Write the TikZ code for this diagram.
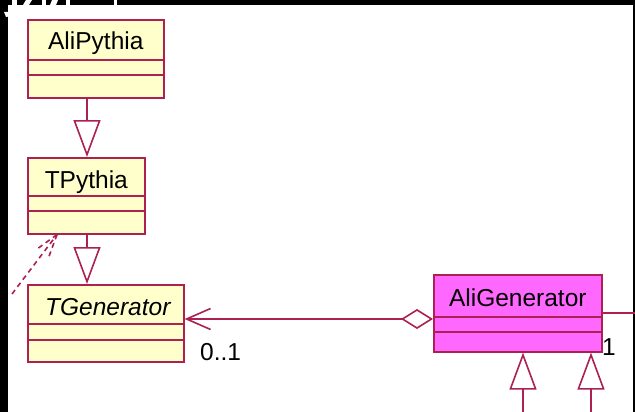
\documentclass[tikz,border=0pt]{standalone}
\usepackage{fontspec}
\setmainfont{Liberation Sans}
\usetikzlibrary{arrows.meta,calc}

\definecolor{umlred}{RGB}{172,32,84}
\definecolor{classyellow}{RGB}{255,255,204}
\definecolor{classpink}{RGB}{255,104,255}

\tikzset{
  umlclass/.style={draw=umlred, line width=1.6pt, inner sep=0pt, anchor=north west},
  classname/.style={anchor=base, inner sep=0pt, font=\fontsize{24.5}{28}\selectfont},
  mult/.style={anchor=base west, inner sep=0pt, font=\fontsize{24.5}{28}\selectfont},
  umlline/.style={draw=umlred, line width=1.6pt},
  generalize/.style={umlline, -{Triangle[open, length=37pt, width=27pt, fill=white]}},
  aggregate/.style={umlline, {Diamond[open, length=32pt, width=20pt, fill=white]}-{Straight Barb[length=24pt, width=21pt]}},
  depend/.style={umlline, dash pattern=on 5pt off 4pt},
}

\begin{document}
\begin{tikzpicture}[x=1pt, y=-1pt]
\useasboundingbox (0,0) rectangle (635,412);
\fill[white] (0,0) rectangle (635,412);

% screen frame
\fill[black] (0,0) rectangle (635,5);
\fill[black] (0,0) rectangle (8,412);
\fill[black] (633,0) rectangle (635,412);
% lower ends of the caption glyphs above
\fill[white] (4,12) -- (10,12) -- (12,16) -- (6,17) -- cycle;
\fill[white] (12,0) rectangle (17,14);
\fill[white] (26,0) -- (32,0) -- (29,5) -- (23,5) -- cycle;
\fill[white] (42,0) rectangle (46,5);
\fill[white] (52,0) -- (58,0) -- (56,5) -- (50,5) -- cycle;
\fill[white] (66,0) rectangle (70,5);
\fill[white] (114,0) rectangle (117,5);

% classes
\node[umlclass, fill=classyellow, minimum width=136pt, minimum height=78pt] (alipythia) at (27,19) {};
\draw[umlline] ($(alipythia.north west)+(0,-41pt)$) -- ($(alipythia.north east)+(0,-41pt)$);
\draw[umlline] ($(alipythia.north west)+(0,-56pt)$) -- ($(alipythia.north east)+(0,-56pt)$);
\node[classname] at ($(alipythia.north)+(0,-31pt)$) {AliPythia};

\node[umlclass, fill=classyellow, minimum width=117pt, minimum height=76pt] (tpythia) at (27,157) {};
\draw[umlline] ($(tpythia.north west)+(0,-39pt)$) -- ($(tpythia.north east)+(0,-39pt)$);
\draw[umlline] ($(tpythia.north west)+(0,-54pt)$) -- ($(tpythia.north east)+(0,-54pt)$);
\node[classname] at ($(tpythia.north)+(0,-31pt)$) {TPythia};

\node[umlclass, fill=classyellow, minimum width=156pt, minimum height=77pt] (tgen) at (27,284) {};
\draw[umlline] ($(tgen.north west)+(0,-40pt)$) -- ($(tgen.north east)+(0,-40pt)$);
\draw[umlline] ($(tgen.north west)+(0,-56pt)$) -- ($(tgen.north east)+(0,-56pt)$);
\node[classname, font=\fontsize{24.5}{28}\selectfont\itshape] at ($(tgen.north)+(2pt,-31pt)$) {TGenerator};

\node[umlclass, fill=classpink, minimum width=168pt, minimum height=77pt] (aligen) at (433,274) {};
\draw[umlline] ($(aligen.north west)+(0,-43pt)$) -- ($(aligen.north east)+(0,-43pt)$);
\draw[umlline] ($(aligen.north west)+(0,-58pt)$) -- ($(aligen.north east)+(0,-58pt)$);
\node[classname] at ($(aligen.north)+(0,-32pt)$) {AliGenerator};

% inheritance
\draw[generalize] ($(alipythia.south west)+(60pt,0)$) -- ($(tpythia.north west)+(60pt,0)$);
\draw[generalize] ($(tpythia.south west)+(60pt,0)$) -- ($(tgen.north west)+(60pt,0)$);

\coordinate (subA) at (523,413);
\coordinate (subB) at (591,413);
\draw[generalize] (subA) -- (subA |- aligen.south);
\draw[generalize] (subB) -- (subB |- aligen.south);

% aggregation AliGenerator -> TGenerator
\draw[aggregate] ($(aligen.north west)+(0,-45pt)$) -- ($(tgen.north east)+(0,-35pt)$);
\node[mult] at (200,360) {0..1};

% association leaving to the right
\coordinate (rightend) at (636,313);
\draw[umlline] ($(aligen.north east)+(0,-39pt)$) -- (rightend);
\node[mult] at (602,355) {1};

% dependency onto TPythia
\coordinate (depsrc) at (12,294);
\coordinate (deptip) at ($(tpythia.south west)+(30pt,0)$);
\draw[depend] (depsrc) -- (deptip);
\draw[depend] (deptip) -- ($(deptip)!24pt!17:(depsrc)$);
\draw[depend] (deptip) -- ($(deptip)!24pt!-17:(depsrc)$);
\end{tikzpicture}
\end{document}
